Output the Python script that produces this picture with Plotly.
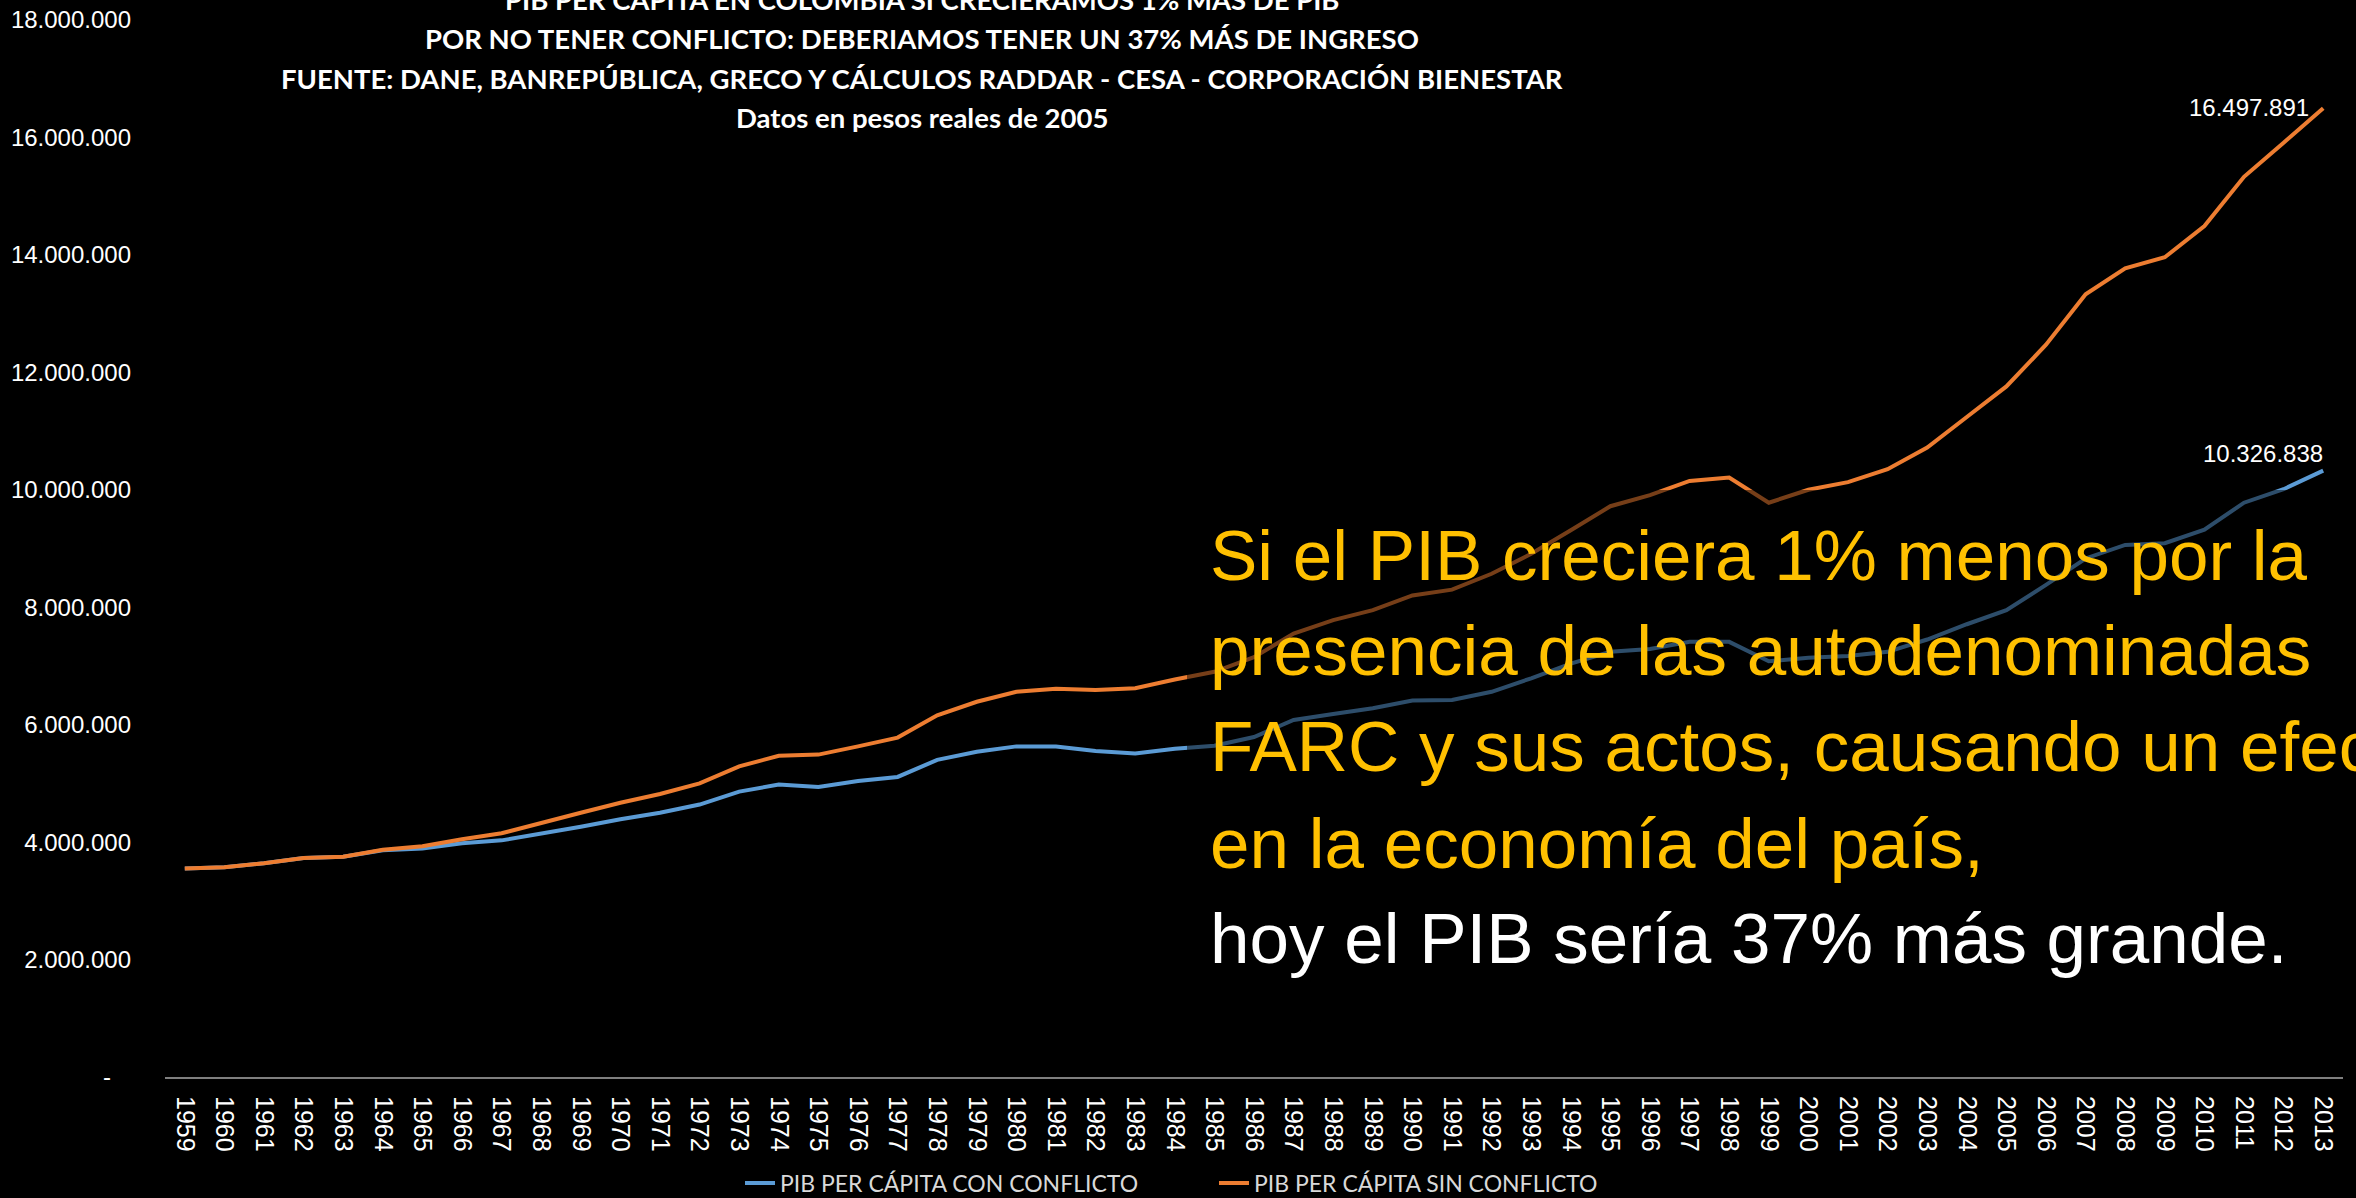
import plotly.graph_objects as go

# ---------------- data ----------------
years = list(range(1959, 2014))

pib_con_conflicto = [
    3550000, 3570000, 3640000, 3730000, 3750000, 3860000, 3890000, 3980000, 4030000, 4140000,
    4260000, 4390000, 4500000, 4640000, 4860000, 4980000, 4940000, 5040000, 5110000, 5400000,
    5540000, 5630000, 5630000, 5550000, 5510000, 5590000, 5640000, 5790000, 6080000, 6180000,
    6280000, 6410000, 6420000, 6560000, 6790000, 7040000, 7240000, 7290000, 7410000, 7410000,
    7080000, 7140000, 7170000, 7240000, 7450000, 7710000, 7950000, 8380000, 8830000, 9060000,
    9090000, 9320000, 9780000, 10010000, 10326838,
]

pib_sin_conflicto = [
    3550000, 3570000, 3640000, 3730000, 3750000, 3870000, 3930000, 4050000, 4150000, 4330000,
    4500000, 4670000, 4820000, 5000000, 5290000, 5470000, 5490000, 5630000, 5780000, 6160000,
    6390000, 6560000, 6610000, 6590000, 6620000, 6770000, 6900000, 7150000, 7550000, 7780000,
    7950000, 8200000, 8300000, 8570000, 8910000, 9310000, 9720000, 9910000, 10150000, 10210000,
    9780000, 10000000, 10130000, 10350000, 10720000, 11240000, 11760000, 12470000, 13330000, 13770000,
    13960000, 14490000, 15330000, 15910000, 16497891,
]

series_names = ["PIB PER CÁPITA CON CONFLICTO", "PIB PER CÁPITA SIN CONFLICTO"]

y_tick_values = [0, 2000000, 4000000, 6000000, 8000000, 10000000, 12000000, 14000000, 16000000, 18000000]
y_tick_labels = ["-\u00a0\u00a0\u00a0", "2.000.000", "4.000.000", "6.000.000", "8.000.000", "10.000.000",
                 "12.000.000", "14.000.000", "16.000.000", "18.000.000"]

end_labels = ["10.326.838", "16.497.891"]

title_lines = [
    "PIB PER CÁPITA EN COLOMBIA SI CRECIERAMOS 1% MÁS DE PIB",
    "POR NO TENER CONFLICTO: DEBERIAMOS TENER UN 37% MÁS DE INGRESO",
    "FUENTE: DANE, BANREPÚBLICA, GRECO Y CÁLCULOS RADDAR - CESA - CORPORACIÓN BIENESTAR",
    "Datos en pesos reales de 2005",
]

message_lines = [
    "Si el PIB creciera 1% menos por la",
    "presencia de las autodenominadas",
    "FARC y sus actos, causando un efecto",
    "en la economía del país,",
    "hoy el PIB sería 37% más grande.",
]

# ---------------- layout geometry ----------------
W, H = 2356, 1198
PL, PR, PT, PB = 165, 2343, 20, 1077


def px_x(px):
    return (px - PL) / (PR - PL)


def px_y(py):
    return (PB - py) / (PB - PT)


BLUE = "#5B9BD5"
ORANGE = "#ED7D31"
YELLOW = "#FFC000"

fig = go.Figure()
fig.add_trace(go.Scatter(x=years, y=pib_con_conflicto, mode="lines", name=series_names[0],
                         line=dict(color=BLUE, width=4)))
fig.add_trace(go.Scatter(x=years, y=pib_sin_conflicto, mode="lines", name=series_names[1],
                         line=dict(color=ORANGE, width=4)))

annotations = []

# title lines (baselines in px)
title_baselines = [9, 48, 88, 127]
TS = 27.5
for txt, bl in zip(title_lines, title_baselines):
    annotations.append(dict(
        text="<b>" + txt + "</b>", xref="paper", yref="paper",
        x=px_x(922), y=px_y(bl - 0.35 * TS), xanchor="center", yanchor="middle",
        showarrow=False, font=dict(family="Lato", size=TS, color="white"),
    ))

# end-of-line value labels
annotations.append(dict(
    text=end_labels[0], x=years[-1], y=pib_con_conflicto[-1], xref="x", yref="y",
    xanchor="right", yanchor="middle", yshift=17, xshift=2, showarrow=False,
    font=dict(family="Liberation Sans", size=24, color="white"),
))
annotations.append(dict(
    text=end_labels[1], x=years[-1], y=pib_sin_conflicto[-1], xref="x", yref="y",
    xanchor="right", yanchor="middle", yshift=1, xshift=-12, showarrow=False,
    font=dict(family="Liberation Sans", size=24, color="white"),
))

# message text
MS = 71
msg_baselines = [580, 675, 771, 868, 963]
for i, (txt, bl) in enumerate(zip(message_lines, msg_baselines)):
    annotations.append(dict(
        text=txt, xref="paper", yref="paper",
        x=px_x(1208), y=px_y(bl - 0.3465 * MS), xanchor="left", yanchor="middle",
        showarrow=False,
        font=dict(family="Liberation Sans", size=MS, color=("white" if i == 4 else YELLOW)),
    ))

shapes = [dict(
    type="rect", xref="paper", yref="paper", layer="above",
    x0=px_x(1187), x1=px_x(2400), y0=px_y(490), y1=px_y(1005),
    fillcolor="rgba(0,0,0,0.5)", line=dict(width=0),
)]

fig.update_layout(
    width=W, height=H,
    paper_bgcolor="black", plot_bgcolor="black",
    margin=dict(l=PL, r=W - PR, t=PT, b=H - PB, autoexpand=False),
    showlegend=True,
    legend=dict(
        orientation="h", x=px_x(740), y=px_y(1183), xanchor="left", yanchor="middle",
        font=dict(family="Lato", size=23, color="#D9D9D9"),
        bgcolor="rgba(0,0,0,0)", entrywidth=429, entrywidthmode="pixels",
        itemwidth=30,
    ),
    annotations=annotations,
    shapes=shapes,
    xaxis=dict(
        range=[1958.5, 2013.5], tickmode="array", tickvals=years,
        ticktext=[str(y) for y in years], tickangle=90,
        tickfont=dict(family="Liberation Sans", size=25, color="white"),
        showgrid=False, zeroline=False, showline=True, linecolor="#7F7F7F", linewidth=2,
        ticks="", ticklabelstandoff=12,
    ),
    yaxis=dict(
        range=[0, 18000000], tickmode="array", tickvals=y_tick_values, ticktext=y_tick_labels,
        tickfont=dict(family="Liberation Sans", size=24, color="white"),
        showgrid=False, zeroline=False, showline=False, ticks="", ticklabelstandoff=33,
    ),
)

fig.write_html(
    "out.html",
    config={"displayModeBar": False},
    post_script="document.body.style.margin='0';document.body.style.background='black';"
                "document.documentElement.style.background='black';",
)
